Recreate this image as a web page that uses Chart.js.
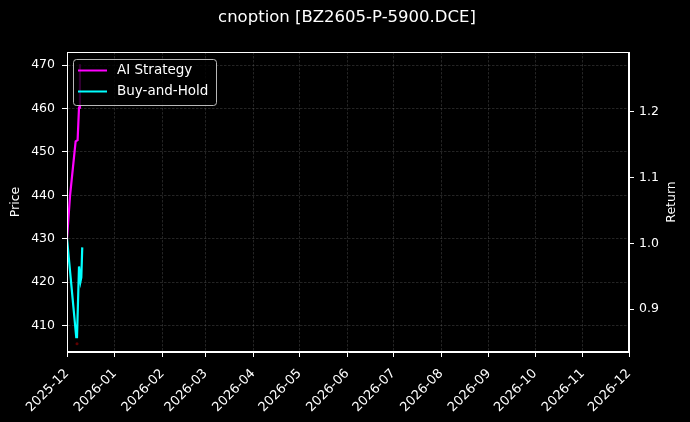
<!DOCTYPE html>
<html>
<head>
<meta charset="utf-8">
<title>cnoption [BZ2605-P-5900.DCE]</title>
<script src="https://cdn.jsdelivr.net/npm/chart.js@4.4.0/dist/chart.umd.min.js"></script>
<style>
  html, body { margin: 0; padding: 0; background: #000; }
  #wrap { width: 690px; height: 422px; }
</style>
</head>
<body>
<div id="wrap"><canvas id="grafico" width="690" height="422"></canvas></div>
<script>
// dias contados a partir de 2025-12-01
const diasAI = [0, 2.0, 5.6, 6.9, 7.8, 8.4];
const precoAI = [430, 440, 452.4, 452.7, 460.2, 470.2];

const diasBH = [0, 6.0, 6.5, 7.8, 8.4, 8.8, 9.3, 9.9];
const precoBH = [430, 407.3, 407.3, 423.6, 423.6, 420.2, 421.1, 428.0];

// marcador de venda (quase invisível no original)
const diasVenda = [6.5];
const precoVenda = [405.8];

// eixo x: início de cada mês
const mesesDias = [0, 31, 62, 90, 121, 151, 182, 212, 243, 274, 304, 335, 365];
const mesesRotulos = ['2025-12', '2026-01', '2026-02', '2026-03', '2026-04', '2026-05',
  '2026-06', '2026-07', '2026-08', '2026-09', '2026-10', '2026-11', '2026-12'];

const ticksPreco = [410, 420, 430, 440, 450, 460, 470];
const ticksRetorno = [0.9, 1.0, 1.1, 1.2];

const titulo = 'cnoption [BZ2605-P-5900.DCE]';
const tituloRetorno = 'Return';
const FONTE = "'DejaVu Sans', sans-serif";
const corGrade = 'rgba(128,128,128,0.4)';

function pares(xs, ys) {
  return xs.map((x, i) => ({ x: x, y: ys[i] }));
}

// fundo preto, moldura, título e legenda no estilo matplotlib
const estiloPlugin = {
  id: 'estilo',
  beforeDraw(chart) {
    const ctx = chart.ctx;
    ctx.save();
    ctx.fillStyle = '#000';
    ctx.fillRect(0, 0, chart.width, chart.height);
    ctx.fillStyle = '#fff';
    ctx.font = '16.5px ' + FONTE;
    ctx.textAlign = 'center';
    ctx.textBaseline = 'middle';
    ctx.fillText(titulo, 347, 18);

    // título do eixo direito, lido de baixo para cima como no matplotlib
    const a = chart.chartArea;
    ctx.font = '12.5px ' + FONTE;
    ctx.translate(672, (a.top + a.bottom) / 2);
    ctx.rotate(-Math.PI / 2);
    ctx.fillText(tituloRetorno, 0, 0);
    ctx.restore();
  },
  afterDraw(chart) {
    const ctx = chart.ctx;
    const a = chart.chartArea;
    ctx.save();
    ctx.strokeStyle = '#fff';
    ctx.lineWidth = 1;
    ctx.strokeRect(a.left + 0.5, a.top + 0.5, a.right - a.left - 1, a.bottom - a.top - 1);

    // legenda
    const itens = chart.data.datasets.filter(d => !d.semLegenda);
    const bx = 73.5, by = 59.5, bw = 143, bh = 46;
    ctx.beginPath();
    ctx.roundRect(bx, by, bw, bh, 3);
    ctx.fillStyle = 'rgba(0,0,0,0.8)';
    ctx.fill();
    ctx.strokeStyle = 'rgba(204,204,204,0.9)';
    ctx.lineWidth = 1;
    ctx.stroke();
    ctx.font = '13.5px ' + FONTE;
    ctx.textAlign = 'left';
    ctx.textBaseline = 'middle';
    itens.forEach((d, i) => {
      const y = 70.5 + i * 21;
      ctx.strokeStyle = d.borderColor;
      ctx.lineWidth = 2;
      ctx.beginPath();
      ctx.moveTo(78, y);
      ctx.lineTo(107, y);
      ctx.stroke();
      ctx.fillStyle = '#fff';
      ctx.fillText(d.label, 117, y);
    });
    ctx.restore();
  }
};

const ctx = document.getElementById('grafico').getContext('2d');
new Chart(ctx, {
  type: 'line',
  data: {
    datasets: [
      {
        label: 'AI Strategy',
        data: pares(diasAI, precoAI),
        borderColor: '#ff00ff',
        borderWidth: 2.2,
        pointRadius: 0,
        tension: 0,
        yAxisID: 'y'
      },
      {
        label: 'Buy-and-Hold',
        data: pares(diasBH, precoBH),
        borderColor: '#00ffff',
        borderWidth: 2.2,
        pointRadius: 0,
        tension: 0,
        yAxisID: 'y'
      },
      {
        label: 'Sell',
        semLegenda: true,
        data: pares(diasVenda, precoVenda),
        showLine: false,
        pointRadius: 1.5,
        pointBackgroundColor: 'rgba(160,0,0,0.6)',
        pointBorderWidth: 0,
        borderColor: 'rgba(160,0,0,0.6)',
        yAxisID: 'y'
      }
    ]
  },
  options: {
    responsive: false,
    animation: false,
    devicePixelRatio: 1,
    layout: { padding: { top: 52, left: 0, right: 0, bottom: 0 } },
    plugins: {
      legend: { display: false },
      title: { display: false },
      tooltip: { enabled: false }
    },
    scales: {
      x: {
        type: 'linear',
        position: 'bottom',
        min: 0,
        max: 365,
        afterBuildTicks(scale) {
          scale.ticks = mesesDias.map(v => ({ value: v }));
        },
        afterFit(scale) { scale.height = 70; },
        ticks: {
          autoSkip: false,
          maxRotation: 45,
          minRotation: 45,
          color: '#fff',
          padding: 9,
          font: { family: FONTE, size: 13 },
          callback: (v) => mesesRotulos[mesesDias.indexOf(v)]
        },
        grid: {
          color: corGrade,
          lineWidth: 0.7,
          tickColor: '#fff',
          tickLength: 5,
          tickWidth: 1
        },
        border: { color: '#fff', width: 1, dash: [2.5, 1.5] }
      },
      y: {
        type: 'linear',
        position: 'left',
        min: 403.9,
        max: 473.0,
        afterBuildTicks(scale) {
          scale.ticks = ticksPreco.map(v => ({ value: v }));
        },
        afterFit(scale) { scale.width = 67; },
        title: {
          display: true,
          text: 'Price',
          color: '#fff',
          font: { family: FONTE, size: 12.5 },
          padding: { top: 8.5, bottom: 0 }
        },
        ticks: {
          color: '#fff',
          padding: 7,
          font: { family: FONTE, size: 12.5 }
        },
        grid: {
          color: corGrade,
          lineWidth: 0.7,
          tickColor: '#fff',
          tickLength: 5,
          tickWidth: 1
        },
        border: { color: '#fff', width: 1, dash: [2.5, 1.5] }
      },
      y1: {
        type: 'linear',
        position: 'right',
        min: 0.835,
        max: 1.2907,
        afterBuildTicks(scale) {
          scale.ticks = ticksRetorno.map(v => ({ value: v }));
        },
        afterFit(scale) { scale.width = 61; },
        ticks: {
          color: '#fff',
          padding: 5,
          font: { family: FONTE, size: 12.5 },
          callback: (v) => v.toFixed(1)
        },
        grid: {
          drawOnChartArea: false,
          tickColor: '#fff',
          tickLength: 5,
          tickWidth: 1
        },
        border: { color: '#fff', width: 1 }
      }
    }
  },
  plugins: [estiloPlugin]
});
</script>
</body>
</html>
